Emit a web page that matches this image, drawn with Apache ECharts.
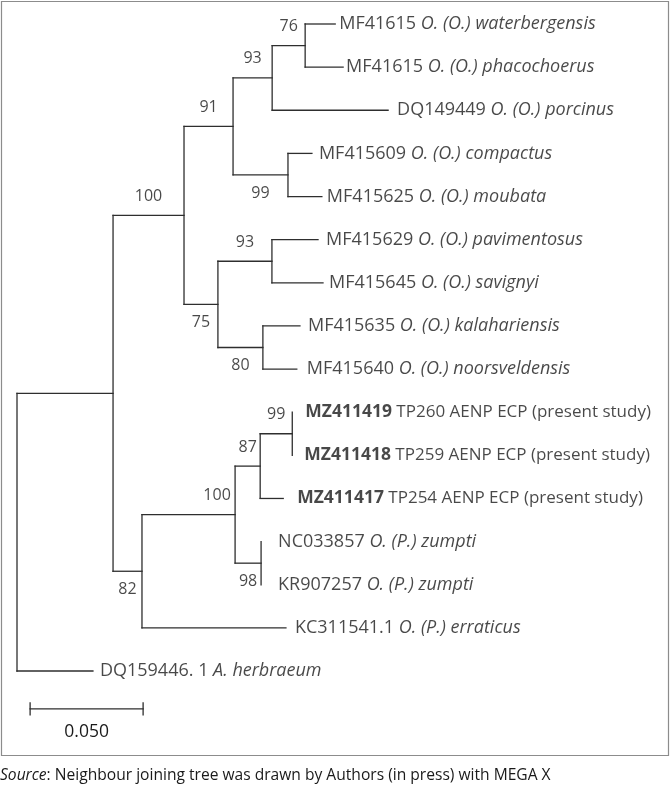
<!DOCTYPE html>
<html>
<head>
<meta charset="utf-8">
<script src="https://cdn.jsdelivr.net/npm/echarts@6/dist/echarts.min.js"></script>
<style>
  html, body { margin: 0; padding: 0; background: #fff; }
  #chart { width: 670px; height: 787px; }
</style>
</head>
<body>
<div id="chart"></div>
<script>
// leaves, top to bottom
const leafIds = ['wat', 'pha', 'por', 'com', 'mou', 'pav', 'sav', 'kal', 'noo', 'mz19', 'mz18', 'mz17', 'nc', 'kr', 'err', 'herb']
const leafAccession = ['MF41615', 'MF41615', 'DQ149449', 'MF415609', 'MF415625', 'MF415629', 'MF415645', 'MF415635',
  'MF415640', 'MZ411419', 'MZ411418', 'MZ411417', 'NC033857', 'KR907257', 'KC311541.1', 'DQ159446. 1']
const leafTaxon = ['O. (O.) waterbergensis', 'O. (O.) phacochoerus', 'O. (O.) porcinus', 'O. (O.) compactus',
  'O. (O.) moubata', 'O. (O.) pavimentosus', 'O. (O.) savignyi', 'O. (O.) kalahariensis', 'O. (O.) noorsveldensis',
  '', '', '', 'O. (P.) zumpti', 'O. (P.) zumpti', 'O. (P.) erraticus', 'A. herbraeum']
const leafNote = ['', '', '', '', '', '', '', '', '',
  'TP260 AENP ECP (present study)', 'TP259 AENP ECP (present study)', 'TP254 AENP ECP (present study)',
  '', '', '', '']

// branches: parent -> child, length in substitutions per site
const edgeParent = ['root', 'root', 'nB', 'nB', 'nC', 'nC', 'nE', 'nE', 'nF', 'nF', 'nG', 'nG', 'nH', 'nH', 'nI',
  'nI', 'nJ', 'nJ', 'nK', 'nK', 'nD', 'nD', 'nL', 'nL', 'nM', 'nM', 'nN', 'nN', 'nO', 'nO']
const edgeChild = ['nB', 'herb', 'nC', 'nD', 'nE', 'nI', 'nF', 'nH', 'nG', 'por', 'wat', 'pha', 'com', 'mou', 'nJ',
  'nK', 'pav', 'sav', 'kal', 'noo', 'nL', 'err', 'nM', 'nO', 'nN', 'mz17', 'mz19', 'mz18', 'nc', 'kr']
const edgeLength = [0.0425, 0.0336, 0.0314, 0.0128, 0.0217, 0.0150, 0.0173, 0.0243, 0.0146, 0.0513, 0.0133, 0.0168,
  0.0106, 0.0150, 0.0239, 0.0199, 0.0204, 0.0226, 0.0164, 0.0150, 0.0412, 0.0637, 0.0111, 0.0115, 0.0142, 0.0102,
  0, 0, 0, 0]

// bootstrap support
const bootNode = ['nG', 'nF', 'nE', 'nH', 'nC', 'nJ', 'nI', 'nK', 'nN', 'nM', 'nL', 'nO', 'nD']
const bootValue = [76, 93, 91, 99, 100, 93, 75, 80, 99, 87, 100, 98, 82]

// scale bar
const scaleLength = 0.05
const scaleLabel = '0.050'

// ---- styling / placement (not data) ----
const bootSide = ['top', 'top', 'top', 'bottom', 'top', 'top', 'bottom', 'bottom', 'top', 'top', 'top', 'bottom', 'bottom']
const labelGap = [4, 3, 9, 7, 5, 8, 6, 8, 10, 13, 12, 14, 17, 17, 9, 7]
const FONT = 'Open Sans'
const INK = '#1a1a1a'

// build tree geometry
const children = {}
const lenOf = {}
edgeParent.forEach((p, i) => {
  (children[p] = children[p] || []).push(edgeChild[i])
  lenOf[edgeChild[i]] = edgeLength[i]
})
const parentOf = {}
edgeChild.forEach((c, i) => { parentOf[c] = edgeParent[i] })
const depth = { root: 0 }
const posY = {}
leafIds.forEach((id, i) => { posY[id] = i })
function walk (id) {
  const kids = children[id] || []
  kids.forEach(k => {
    depth[k] = depth[id] + lenOf[k]
    walk(k)
  })
  if (kids.length) {
    const ys = kids.map(k => posY[k])
    posY[id] = (Math.min(...ys) + Math.max(...ys)) / 2
  }
}
walk('root')

const internalIds = Object.keys(children)
const branchData = internalIds.map(id => [depth[id], posY[id]])

const leafData = leafIds.map((id, i) => {
  const study = leafNote[i] !== ''
  const txt = study
    ? '{b|' + leafAccession[i] + '}{m| ' + leafNote[i] + '}'
    : '{n|' + leafAccession[i] + ' }{i|' + leafTaxon[i] + '}'
  return {
    value: [depth[id], posY[id]],
    label: { formatter: txt, distance: labelGap[i] }
  }
})

const bootData = bootNode.map((id, i) => {
  const atEnd = id === 'nL'
  const x = atEnd ? depth[id] : (depth[id] + depth[parentOf[id]]) / 2
  const dy = bootSide[i] === 'top' ? -19 : 18
  return {
    value: [x, posY[id]],
    label: { formatter: String(bootValue[i]), offset: [atEnd ? -18 : 0, dy] }
  }
})

const lineStyle = { stroke: '#2e2e2e', lineWidth: 1.3, lineCap: 'square' }

const chart = echarts.init(document.getElementById('chart'))
const option = {
  animation: false,
  backgroundColor: '#fff',
  grid: { left: 17, top: 24, width: 452, height: 647 },
  xAxis: { type: 'value', min: 0, max: 0.2, show: false },
  yAxis: { type: 'value', min: 0, max: 15, inverse: true, show: false },
  graphic: [
    {
      type: 'rect',
      shape: { x: 1.5, y: 1.5, width: 667, height: 754 },
      style: { fill: 'none', stroke: '#8c8c8c', lineWidth: 1.2 }
    },
    {
      type: 'text',
      left: 0,
      top: 768,
      style: {
        text: '{i|Source}{n|: Neighbour joining tree was drawn by Authors (in press) with MEGA X}',
        rich: {
          i: { fontFamily: FONT, fontSize: 15.6, fontStyle: 'italic', fill: INK },
          n: { fontFamily: FONT, fontSize: 15.6, fill: INK }
        }
      }
    }
  ],
  series: [
    {
      type: 'custom',
      clip: false,
      silent: true,
      data: branchData,
      renderItem (params, api) {
        const id = internalIds[params.dataIndex]
        const kids = children[id]
        const ys = kids.map(k => posY[k])
        const els = []
        const top = api.coord([depth[id], Math.min(...ys)])
        const bot = api.coord([depth[id], Math.max(...ys)])
        els.push({ type: 'line', shape: { x1: top[0], y1: top[1], x2: bot[0], y2: bot[1] }, style: lineStyle })
        kids.forEach(k => {
          if (lenOf[k] > 0) {
            const a = api.coord([depth[id], posY[k]])
            const b = api.coord([depth[k], posY[k]])
            els.push({ type: 'line', shape: { x1: a[0], y1: a[1], x2: b[0], y2: b[1] }, style: lineStyle })
          }
        })
        return { type: 'group', children: els }
      }
    },
    {
      type: 'scatter',
      symbolSize: 0,
      silent: true,
      data: leafData,
      label: {
        show: true,
        position: 'right',
        rich: {
          n: { fontFamily: FONT, fontSize: 18, color: INK },
          i: { fontFamily: FONT, fontSize: 18, fontStyle: 'italic', color: INK },
          b: { fontFamily: FONT, fontSize: 17.5, fontWeight: 'bold', color: INK },
          m: { fontFamily: FONT, fontSize: 17, color: INK }
        }
      }
    },
    {
      type: 'scatter',
      symbolSize: 0,
      silent: true,
      data: bootData,
      label: {
        show: true,
        position: 'inside',
        fontFamily: FONT,
        fontSize: 16,
        color: INK
      }
    },
    {
      type: 'custom',
      clip: false,
      silent: true,
      data: [[0.0058, 15.88, scaleLength]],
      renderItem (params, api) {
        const a = api.coord([api.value(0), api.value(1)])
        const b = api.coord([api.value(0) + api.value(2), api.value(1)])
        return {
          type: 'group',
          children: [
            { type: 'line', shape: { x1: a[0], y1: a[1], x2: b[0], y2: b[1] }, style: lineStyle },
            { type: 'line', shape: { x1: a[0], y1: a[1] - 6, x2: a[0], y2: a[1] + 6 }, style: lineStyle },
            { type: 'line', shape: { x1: b[0], y1: b[1] - 6, x2: b[0], y2: b[1] + 6 }, style: lineStyle },
            {
              type: 'text',
              x: (a[0] + b[0]) / 2,
              y: a[1] + 23,
              style: { text: scaleLabel, fontFamily: FONT, fontSize: 17.5, fill: INK, align: 'center', verticalAlign: 'middle' }
            }
          ]
        }
      }
    }
  ]
}
chart.setOption(option)
</script>
</body>
</html>
